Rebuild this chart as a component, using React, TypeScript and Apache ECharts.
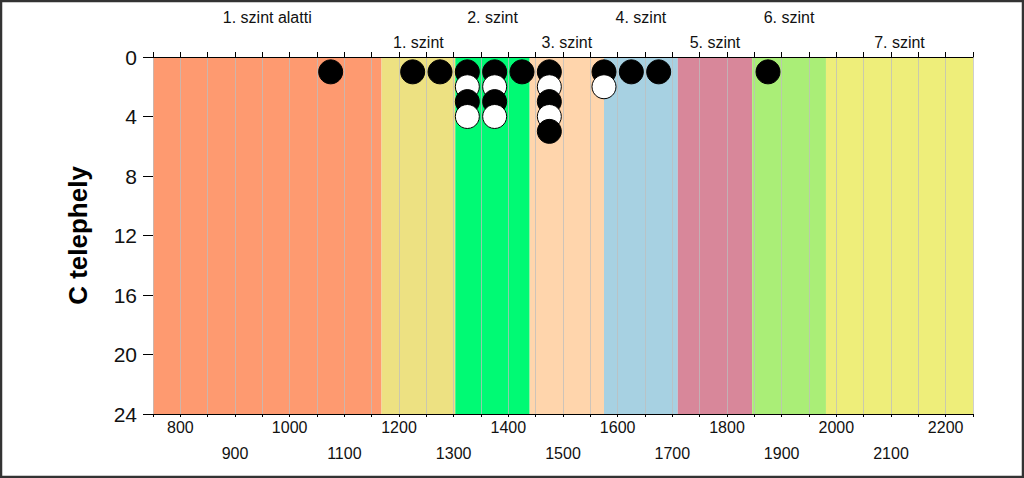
import React, { useEffect, useRef } from "react";
import * as echarts from "echarts";

// Level bands (x ranges), names and colours
const bandNames = [
  "1. szint alatti",
  "1. szint",
  "2. szint",
  "3. szint",
  "4. szint",
  "5. szint",
  "6. szint",
  "7. szint",
];
const bandEdges = [750, 1168, 1303, 1439, 1575, 1710, 1846, 1981, 2250];
const bandColors = [
  "#FE9A70",
  "#EDE182",
  "#00FA74",
  "#FFD5AC",
  "#A7D1E2",
  "#D8879A",
  "#AAEE77",
  "#EEEE7A",
];

// Dot stacks: bin centre and the colours from the axis downward (B = black, W = white)
const stackX = [1075, 1225, 1275, 1325, 1375, 1425, 1475, 1575, 1625, 1675, 1875];
const stackPattern = ["B", "B", "B", "BWBW", "BWBW", "B", "BWBWB", "BW", "B", "B", "B"];

// Axis settings
const xMin = 750;
const xMax = 2250;
const xStep = 50;
const yMin = 0;
const yMax = 24;
const yStep = 4;
const yTitle = "C telephely";

const FONT = "'Liberation Sans', Arial, sans-serif";

export default function App() {
  const ref = useRef<HTMLDivElement>(null);

  useEffect(() => {
    if (!ref.current) return;
    const chart = echarts.init(ref.current, undefined, { renderer: "svg" });

    const dots: any[] = [];
    stackX.forEach((x, i) => {
      stackPattern[i].split("").forEach((c, j) => {
        const black = c === "B";
        dots.push({
          value: [x, j + 1],
          itemStyle: {
            color: black ? "#000000" : "#FFFFFF",
            borderColor: "#000000",
            borderWidth: 1,
            opacity: 1,
          },
        });
      });
    });

    const areas = bandNames.map((name, i) => [
      {
        name,
        xAxis: bandEdges[i],
        itemStyle: { color: bandColors[i], opacity: 1 },
        label: {
          show: true,
          position: "top",
          distance: i % 2 === 0 ? 32 : 7,
          color: "#111",
          fontSize: 16,
          fontFamily: FONT,
        },
      },
      { xAxis: bandEdges[i + 1] },
    ]);

    chart.setOption({
      animation: false,
      backgroundColor: "#FFFFFF",
      grid: { left: 153, right: 51, top: 57, bottom: 64, containLabel: false },
      xAxis: [
        {
          type: "value",
          position: "bottom",
          min: xMin,
          max: xMax,
          interval: xStep,
          z: 2,
          axisLine: { show: true, onZero: false, lineStyle: { color: "#000", width: 1 } },
          axisTick: { show: true, length: 3, lineStyle: { color: "#000" } },
          splitLine: { show: true, lineStyle: { color: "rgba(190,190,190,0.75)", width: 1 } },
          axisLabel: {
            color: "#111",
            fontSize: 16,
            fontFamily: FONT,
            lineHeight: 26,
            margin: 0,
            formatter: (v: number) =>
              v % 200 === 0 ? String(v) : v % 100 === 0 ? "\n" + v : "",
          },
        },
        {
          type: "value",
          position: "top",
          min: xMin,
          max: xMax,
          interval: xStep,
          z: 2,
          axisLine: { show: true, onZero: false, lineStyle: { color: "#000", width: 1 } },
          axisTick: { show: true, inside: false, length: 5, lineStyle: { color: "#000" } },
          axisLabel: { show: false },
          splitLine: { show: false },
        },
      ],
      yAxis: {
        type: "value",
        inverse: true,
        min: yMin,
        max: yMax,
        interval: yStep,
        name: yTitle,
        nameLocation: "middle",
        nameRotate: 90,
        nameGap: 62,
        nameTextStyle: { color: "#000", fontSize: 26, fontWeight: "bold", fontFamily: FONT },
        axisLine: { show: true, onZero: false, lineStyle: { color: "#000", width: 1 } },
        axisTick: { show: true, length: 10, lineStyle: { color: "#000" } },
        splitLine: { show: false },
        axisLabel: { color: "#111", fontSize: 21, fontFamily: FONT, margin: 16 },
      },
      series: [
        {
          type: "line",
          data: [],
          z: 1,
          silent: true,
          markArea: { silent: true, data: areas },
        },
        {
          type: "scatter",
          xAxisIndex: 0,
          z: 3,
          symbol: "circle",
          symbolSize: 24,
          itemStyle: { opacity: 1 },
          data: dots,
        },
      ],
      graphic: [
        {
          type: "rect",
          shape: { x: 1, y: 1, width: 1022, height: 476 },
          style: { fill: "none", stroke: "#333", lineWidth: 2.5 },
          silent: true,
          z: 100,
        },
      ],
    });

    return () => chart.dispose();
  }, []);

  return (
    <div
      ref={ref}
      style={{ position: "fixed", left: 0, top: 0, width: 1024, height: 478 }}
    />
  );
}
